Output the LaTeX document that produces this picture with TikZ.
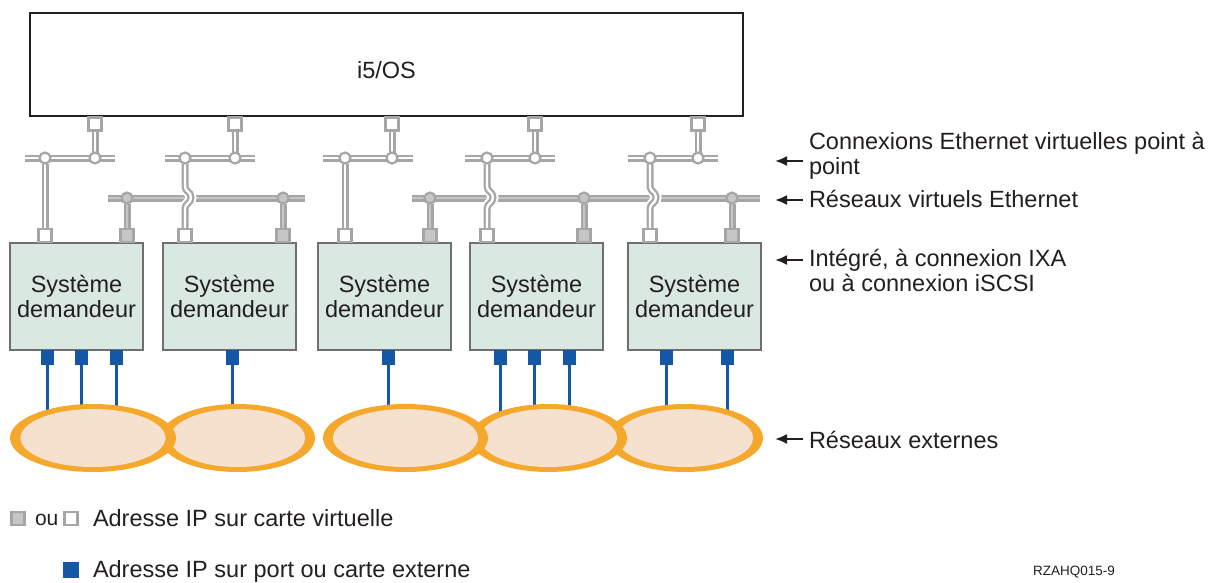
\documentclass[tikz,border=0pt]{standalone}
\usepackage{fontspec}
\setmainfont{Liberation Sans}
\usetikzlibrary{arrows.meta,shapes.geometric,backgrounds}
\definecolor{lgray}{HTML}{A6A6A6}
\definecolor{mgray}{HTML}{C6C6C6}
\definecolor{boxfill}{HTML}{DAE8E2}
\definecolor{boxline}{HTML}{6F6F6F}
\definecolor{ibmblue}{HTML}{1457A6}
\definecolor{ringor}{HTML}{F5A82C}
\definecolor{peach}{HTML}{F5E1CE}
\definecolor{ink}{HTML}{231F20}
\begin{document}
\begin{tikzpicture}[x=1pt,y=-1pt,
  every node/.style={inner sep=0pt, outer sep=0pt},
  txt/.style={font=\fontsize{23.5}{25}\selectfont, text=ink},
  sysbox/.style={draw=boxline, fill=boxfill, line width=1.5pt, minimum width=133pt, minimum height=107pt, txt, align=center},
  vsq/.style={draw=lgray, fill=white, line width=2.2pt, minimum size=13pt},
  gsq/.style={draw=lgray, fill=mgray, line width=2.2pt, minimum size=13pt},
  bsq/.style={fill=ibmblue, minimum width=13pt, minimum height=15pt},
  wdot/.style={circle, draw=lgray, fill=white, line width=2.2pt, minimum size=11pt},
  gdot/.style={circle, draw=lgray, fill=mgray, line width=2.2pt, minimum size=11pt},
  wlink/.style={draw=lgray, line width=2.3pt, double=white, double distance=2.4pt},
  glink/.style={draw=lgray, line width=2.3pt, double=mgray, double distance=2.4pt},
  halo/.style={preaction={draw=white, line width=11pt}},
  blink/.style={draw=ibmblue, line width=3pt},
  lbl/.style={-{Latex[length=12pt,width=10pt]}, line width=2pt, draw=ink},
  net/.style={ellipse, fill=ringor, minimum height=68pt},
]
\useasboundingbox (0,0) rectangle (1215,582);

% i5/OS
\node[draw=ink, line width=1.2pt, fill=white, minimum width=713pt, minimum height=103pt] (os) at (386.5,64.5) {};
\node[txt] (ostext) at (386.5,70) {i5/OS};

% top ports
\node[vsq] (t1) at (95,124) {};
\node[vsq] (t2) at (235,124) {};
\node[vsq] (t3) at (392,124) {};
\node[vsq] (t4) at (535,124) {};
\node[vsq] (t5) at (698,124) {};

% point-to-point buses ends
\coordinate (p1l) at (25,158);  \coordinate (p1r) at (115,158);
\coordinate (p2l) at (165,158); \coordinate (p2r) at (255,158);
\coordinate (p3l) at (323,158); \coordinate (p3r) at (413,158);
\coordinate (p4l) at (465,158); \coordinate (p4r) at (555,158);
\coordinate (p5l) at (628,158); \coordinate (p5r) at (718,158);
% virtual ethernet buses ends
\coordinate (vAl) at (108,198); \coordinate (vAr) at (305,198);
\coordinate (vBl) at (412,198); \coordinate (vBr) at (760,198);

% circles
\node[wdot] (c1l) at (45,158) {};  \node[wdot] (c1r) at (95,158) {};
\node[wdot] (c2l) at (185,158) {}; \node[wdot] (c2r) at (235,158) {};
\node[wdot] (c3l) at (345,158) {}; \node[wdot] (c3r) at (392,158) {};
\node[wdot] (c4l) at (487,158) {}; \node[wdot] (c4r) at (535,158) {};
\node[wdot] (c5l) at (650,158) {}; \node[wdot] (c5r) at (698,158) {};
\node[gdot] (g1) at (127,198) {};
\node[gdot] (g2) at (283,198) {};
\node[gdot] (g3) at (430,198) {};
\node[gdot] (g4) at (584,198) {};
\node[gdot] (g5) at (732,198) {};

% system boxes
\node[sysbox] (s1) at (76.5,296.5) {Système\\demandeur};
\node[sysbox] (s2) at (229.5,296.5) {Système\\demandeur};
\node[sysbox] (s3) at (384.5,296.5) {Système\\demandeur};
\node[sysbox] (s4) at (536.5,296.5) {Système\\demandeur};
\node[sysbox] (s5) at (694.5,296.5) {Système\\demandeur};

% ports on top of systems
\node[vsq] (w1) at (45,235.5) {};
\node[vsq] (w2) at (185,235.5) {};
\node[vsq] (w3) at (345,235.5) {};
\node[vsq] (w4) at (487,235.5) {};
\node[vsq] (w5) at (650,235.5) {};
\node[gsq] (q1) at (127,235.5) {};
\node[gsq] (q2) at (283,235.5) {};
\node[gsq] (q3) at (430,235.5) {};
\node[gsq] (q4) at (584,235.5) {};
\node[gsq] (q5) at (732,235.5) {};

% external ports
\node[bsq] (e1) at (47,357.5) {};
\node[bsq] (e2) at (81,357.5) {};
\node[bsq] (e3) at (116,357.5) {};
\node[bsq] (e4) at (232,357.5) {};
\node[bsq] (e5) at (388,357.5) {};
\node[bsq] (e6) at (500,357.5) {};
\node[bsq] (e7) at (534,357.5) {};
\node[bsq] (e8) at (569,357.5) {};
\node[bsq] (e9) at (666,357.5) {};
\node[bsq] (e10) at (727,357.5) {};

% external networks (drawn right to left)
\node[net, minimum width=156pt] (n5) at (685,438) {};
\fill[peach] (n5.center) ellipse [x radius=68, y radius=29];
\node[net, minimum width=157pt] (n4) at (548.5,438) {};
\fill[peach] (n4.center) ellipse [x radius=68.5, y radius=29];
\node[net, minimum width=165pt] (n3) at (405.5,438) {};
\fill[peach] (n3.center) ellipse [x radius=72.5, y radius=29];
\node[net, minimum width=155pt] (n2) at (237.5,438) {};
\fill[peach] (n2.center) ellipse [x radius=67.5, y radius=29];
\node[net, minimum width=166pt] (n1) at (93,438) {};
\fill[peach] (n1.center) ellipse [x radius=72.5, y radius=29];

\begin{scope}[on background layer]
  % buses
  \draw[wlink] (p1l) -- (p1r);
  \draw[wlink] (p2l) -- (p2r);
  \draw[wlink] (p3l) -- (p3r);
  \draw[wlink] (p4l) -- (p4r);
  \draw[wlink] (p5l) -- (p5r);
  \draw[glink] (vAl) -- (vAr);
  \draw[glink] (vBl) -- (vBr);
  % i5/OS to point-to-point
  \draw[wlink] (t1.south) -- (c1r.north);
  \draw[wlink] (t2.south) -- (c2r.north);
  \draw[wlink] (t3.south) -- (c3r.north);
  \draw[wlink] (t4.south) -- (c4r.north);
  \draw[wlink] (t5.south) -- (c5r.north);
  % point-to-point to systems
  \draw[wlink] (c1l.south) -- (w1.north);
  \draw[wlink] (c3l.south) -- (w3.north);
  \draw[wlink, halo] (c2l.south) -- ++(0,23) .. controls +(0,5) and +(0,-6) .. ++(6,11) .. controls +(0,6) and +(0,-5) .. ++(-6,11) -- (w2.north);
  \draw[wlink, halo] (c4l.south) -- ++(0,23) .. controls +(0,5) and +(0,-6) .. ++(6,11) .. controls +(0,6) and +(0,-5) .. ++(-6,11) -- (w4.north);
  \draw[wlink, halo] (c5l.south) -- ++(0,23) .. controls +(0,5) and +(0,-6) .. ++(6,11) .. controls +(0,6) and +(0,-5) .. ++(-6,11) -- (w5.north);
  % virtual ethernet to systems
  \draw[glink] (g1.south) -- (q1.north);
  \draw[glink] (g2.south) -- (q2.north);
  \draw[glink] (g3.south) -- (q3.north);
  \draw[glink] (g4.south) -- (q4.north);
  \draw[glink] (g5.south) -- (q5.north);
  % external links
  \draw[blink] (e1.south) -- (e1 |- n1.center);
  \draw[blink] (e2.south) -- (e2 |- n1.center);
  \draw[blink] (e3.south) -- (e3 |- n1.center);
  \draw[blink] (e4.south) -- (e4 |- n2.center);
  \draw[blink] (e5.south) -- (e5 |- n3.center);
  \draw[blink] (e6.south) -- (e6 |- n4.center);
  \draw[blink] (e7.south) -- (e7 |- n4.center);
  \draw[blink] (e8.south) -- (e8 |- n4.center);
  \draw[blink] (e9.south) -- (e9 |- n5.center);
  \draw[blink] (e10.south) -- (e10 |- n5.center);
\end{scope}

% right labels
\node[txt, anchor=west, align=left] (l1) at (809,155.5) {Connexions Ethernet virtuelles point à\\point};
\coordinate (a1) at (775,161);
\draw[lbl] (a1 -| l1.west) ++(-6,0) -- (a1);
\node[txt, anchor=base west] (l2) at (809,207) {Réseaux virtuels Ethernet};
\coordinate (a2) at (775,200);
\draw[lbl] (a2 -| l2.west) ++(-6,0) -- (a2);
\node[txt, anchor=west, align=left] (l3) at (809,270) {Intégré, à connexion IXA\\ou à connexion iSCSI};
\coordinate (a3) at (775,260);
\draw[lbl] (a3 -| l3.west) ++(-6,0) -- (a3);
\node[txt, anchor=base west] (l4) at (809,448) {Réseaux externes};
\coordinate (a4) at (775,439);
\draw[lbl] (a4 -| l4.west) ++(-6,0) -- (a4);

% legend
\node[gsq] (lg1) at (18,518.5) {};
\node[txt, font=\fontsize{21}{25}\selectfont, anchor=base west] (lou) at (35,525) {ou};
\node[vsq] (lg2) at (71,518.5) {};
\node[txt, anchor=base west] (lt1) at (93,526) {Adresse IP sur carte virtuelle};
\node[bsq, minimum width=16pt, minimum height=16pt] (lg3) at (71,570) {};
\node[txt, anchor=base west] (lt2) at (93,577) {Adresse IP sur port ou carte externe};
\node[anchor=base west, font=\fontsize{13.5}{16}\selectfont, text=ink] (ref) at (1033,575) {RZAHQ015-9};
\end{tikzpicture}
\end{document}
